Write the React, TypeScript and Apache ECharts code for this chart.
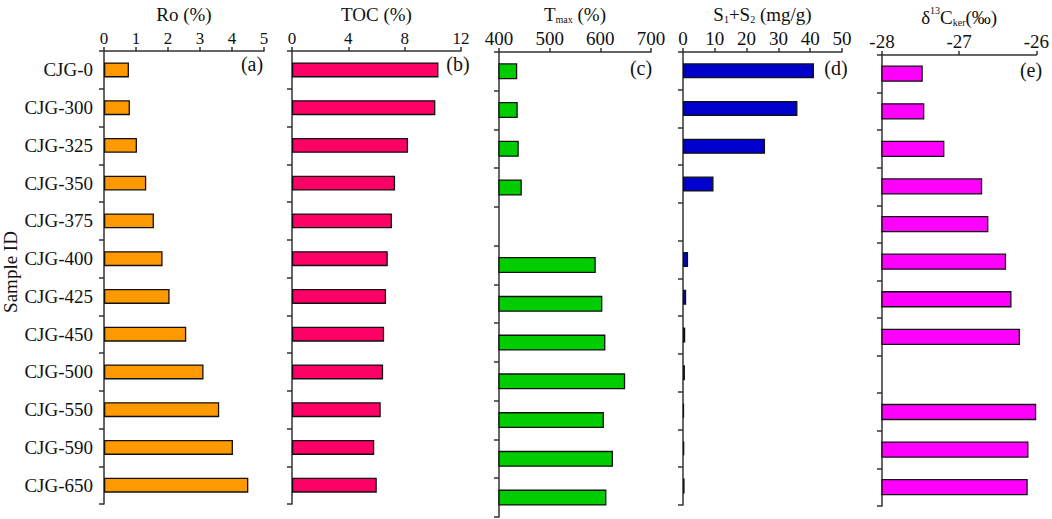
import React, { useEffect, useRef } from "react";
import * as echarts from "echarts";

const samples = ["CJG-0", "CJG-300", "CJG-325", "CJG-350", "CJG-375", "CJG-400", "CJG-425", "CJG-450", "CJG-500", "CJG-550", "CJG-590", "CJG-650"];
const roValues = [0.78, 0.81, 1.03, 1.32, 1.56, 1.83, 2.05, 2.57, 3.11, 3.6, 4.03, 4.51];
const tocValues = [10.4, 10.18, 8.24, 7.32, 7.1, 6.8, 6.68, 6.54, 6.47, 6.3, 5.84, 6.02];
const tmaxValues = [436, 437, 439, 445, null, 591, 604, 610, 649, 607, 625, 612];
const s1s2Values = [41.2, 36.0, 25.8, 9.6, null, 1.6, 1.0, 0.7, 0.6, 0.3, 0.4, 0.5];
const d13cValues = [-27.48, -27.46, -27.2, -26.71, -26.63, -26.4, -26.33, -26.22, null, -26.01, -26.11, -26.12];

// axis ranges: [min, max, interval]
const roAxis = [0, 5, 1];
const tocAxis = [0, 12, 4];
const tmaxAxis = [400, 700, 100];
const s1s2Axis = [0, 50, 10];
const d13cAxis = [-28, -26, 1];

const panelLetters = ["(a)", "(b)", "(c)", "(d)", "(e)"];

const FONT = "'Liberation Serif', 'Times New Roman', serif";
const AXIS_COLOR = "#333";
const TEXT_COLOR = "#111";

export default function App() {
  const ref = useRef<HTMLDivElement>(null);
  useEffect(() => {
    if (!ref.current) return;
    const chart = echarts.init(ref.current, null, { renderer: "svg" });

    const grids = [
      { left: 104, top: 43, width: 160, height: 461 },
      { left: 292, top: 43, width: 169, height: 461 },
      { left: 499, top: 43, width: 152, height: 474 },
      { left: 683, top: 43, width: 159, height: 462 },
      { left: 882, top: 43, width: 158, height: 463 },
    ];
    const axes = [roAxis, tocAxis, tmaxAxis, s1s2Axis, d13cAxis];
    const tickFont = [17, 17, 19, 19, 19];
    const rich = {
      n: { fontSize: 19, fontFamily: FONT, color: TEXT_COLOR, lineHeight: 22, verticalAlign: "bottom" as const },
      s: { fontSize: 10, fontFamily: FONT, color: TEXT_COLOR, lineHeight: 22, verticalAlign: "bottom" as const, padding: [0, 0, 0, 0] },
      sup: { fontSize: 10, fontFamily: FONT, color: TEXT_COLOR, lineHeight: 10, verticalAlign: "top" as const },
    };
    const names = [
      "{n|Ro (%)}",
      "{n|TOC (%)}",
      "{n|T}{s|max}{n| (%)}",
      "{n|S}{s|1}{n|+S}{s|2}{n| (mg/g)}",
      "{n|δ}{sup|13}{n|C}{s|ker}{n|(‰)}",
    ];

    const xAxis = axes.map((a, i) => ({
      type: "value" as const,
      gridIndex: i,
      position: "top" as const,
      min: a[0],
      max: a[1],
      interval: a[2],
      name: names[i],
      nameLocation: "middle" as const,
      nameGap: 27,
      nameTextStyle: { rich },
      axisLine: { show: true, lineStyle: { color: AXIS_COLOR, width: 1.5 } },
      axisTick: { show: true, length: 4, lineStyle: { color: AXIS_COLOR, width: 1.5 } },
      axisLabel: { fontSize: tickFont[i], fontFamily: FONT, color: TEXT_COLOR, margin: 4 },
      splitLine: { show: false },
    }));

    const yAxis = axes.map((_, i) => ({
      type: "category" as const,
      gridIndex: i,
      data: samples,
      inverse: true,
      axisLine: { show: true, lineStyle: { color: AXIS_COLOR, width: 1.5 } },
      axisTick: { show: true, length: 5, lineStyle: { color: AXIS_COLOR, width: 1.5 } },
      axisLabel: { show: i === 0, fontSize: 19, fontFamily: FONT, color: TEXT_COLOR, margin: 11 },
      splitLine: { show: false },
    }));

    const colors = ["#FF9900", "#FF0066", "#00CC00", "#0000CC", "#FF00FF"];
    const barData = [roValues, tocValues, tmaxValues, s1s2Values];
    const barSeries = barData.map((d, i) => ({
      type: "bar" as const,
      xAxisIndex: i,
      yAxisIndex: i,
      data: d.map((v) => (v == null ? "-" : v)),
      barWidth: i === 2 ? 16 : 15,
      itemStyle: { color: colors[i], borderColor: "#111", borderWidth: 1.3 },
      clip: true,
    }));

    const eMin = d13cAxis[0];
    const customSeries = {
      type: "custom" as const,
      xAxisIndex: 4,
      yAxisIndex: 4,
      data: d13cValues.map((v, i) => [v == null ? NaN : v, i]),
      encode: { x: 0, y: 1 },
      renderItem: (params: any, api: any) => {
        const v = api.value(0);
        const c = api.value(1);
        if (v == null || isNaN(v)) return null;
        const start = api.coord([eMin, c]);
        const end = api.coord([v, c]);
        const h = 15;
        return {
          type: "rect",
          shape: { x: start[0], y: start[1] - h / 2, width: end[0] - start[0], height: h },
          style: { fill: colors[4], stroke: "#111", lineWidth: 1.3 },
        };
      },
    };

    const letterPos = [
      [252, 64],
      [458, 64],
      [641, 68],
      [836, 68],
      [1031, 70],
    ];

    const graphic = [
      {
        type: "text",
        x: 10,
        y: 272,
        rotation: Math.PI / 2,
        style: {
          text: "Sample ID",
          fontSize: 19,
          fontFamily: FONT,
          fill: TEXT_COLOR,
          textAlign: "center",
          textVerticalAlign: "middle",
        },
      },
      ...panelLetters.map((t, i) => ({
        type: "text",
        x: letterPos[i][0],
        y: letterPos[i][1],
        style: {
          text: t,
          fontSize: 20,
          fontFamily: FONT,
          fill: TEXT_COLOR,
          textAlign: "center",
          textVerticalAlign: "middle",
        },
      })),
    ];

    chart.setOption({
      animation: false,
      backgroundColor: "#ffffff",
      grid: grids,
      xAxis,
      yAxis,
      series: [...barSeries, customSeries],
      graphic,
    });
    return () => chart.dispose();
  }, []);
  return (
    <div
      ref={ref}
      style={{ position: "absolute", left: 0, top: 0, width: 1052, height: 519 }}
    />
  );
}
